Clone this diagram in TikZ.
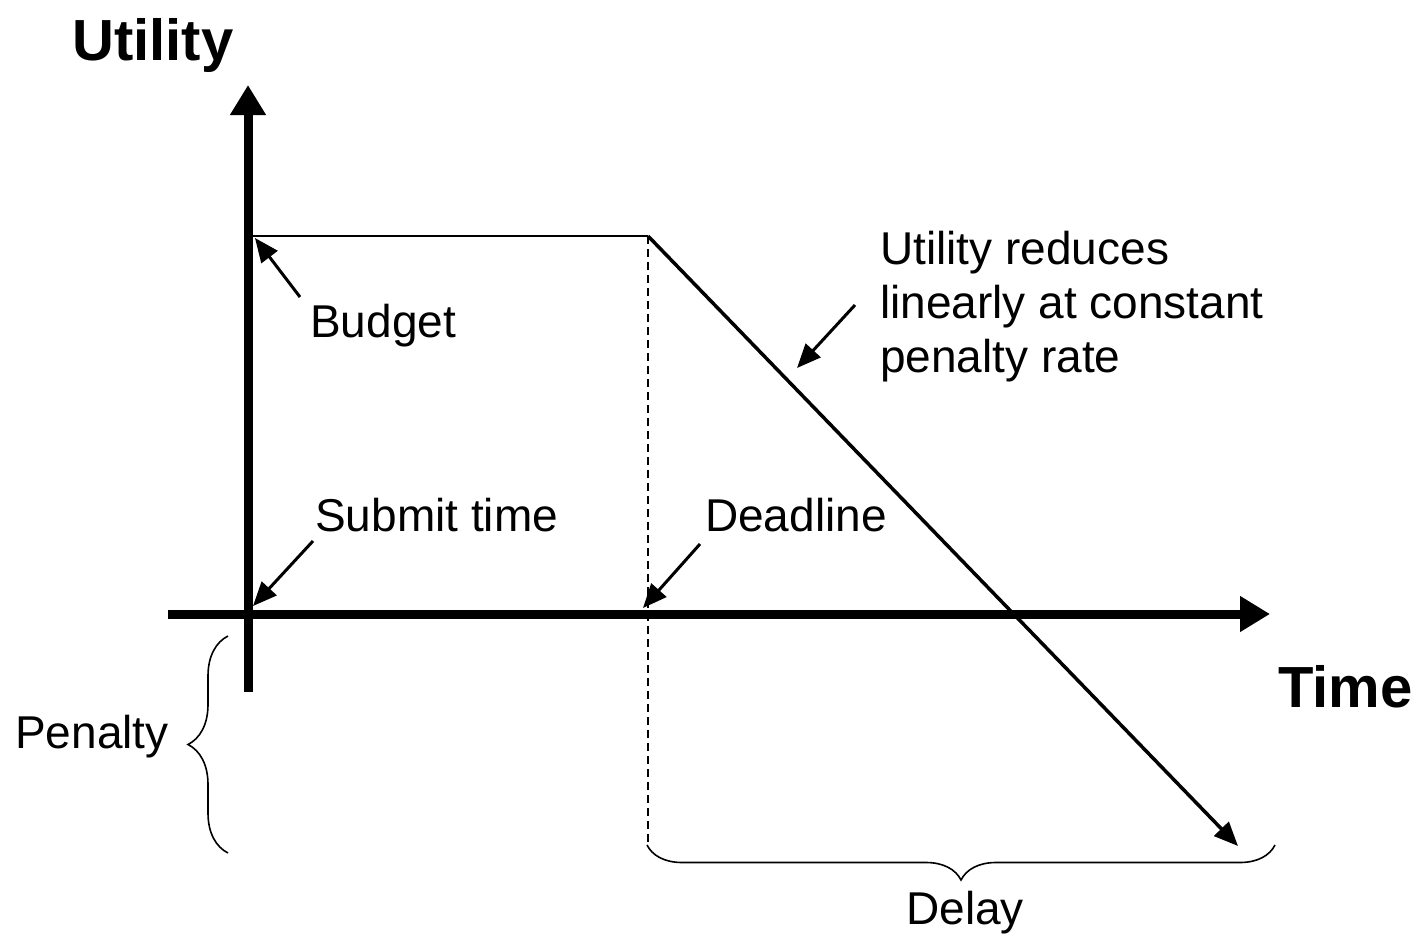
\documentclass[tikz,border=0pt]{standalone}
\usepackage{fontspec}
\setmainfont{Liberation Sans}
\usetikzlibrary{arrows.meta,decorations.pathreplacing}

\begin{document}
\begin{tikzpicture}[
    x=1pt, y=-1pt,
    axis/.style={line width=9pt, -{Triangle[length=30pt,width=34pt]}},
    pointer/.style={line width=3pt, -{Triangle[length=24pt,width=20pt]}},
    curve/.style={line width=2pt},
    guide/.style={line width=1.6pt, dash pattern=on 8pt off 5pt},
    bracket/.style={line width=1.6pt, decorate, decoration={brace, amplitude=#1}},
    lbl/.style={font=\fontsize{46}{54}\selectfont, inner sep=0pt, anchor=base west},
    axislbl/.style={font=\fontsize{58}{64}\selectfont\bfseries, inner sep=0pt, anchor=base west}
]
\useasboundingbox (0,0) rectangle (1421,934);

% Key points
\coordinate (origin) at (248,614);
\coordinate (ybottom) at (248,692);
\coordinate (ytop) at (248,85);
\coordinate (xleft) at (168,614);
\coordinate (xright) at (1270,614);
\coordinate (budget) at (248,236);
\coordinate (deadline) at (648,236);
\coordinate (deadlinefoot) at (648,845);
\coordinate (late) at (1238,846);

% Axes
\draw[axis] (ybottom) -- (ytop);
\draw[axis] (xleft) -- (xright);

% Utility curve
\draw[curve] (budget) -- (deadline);
\draw[guide] (deadline) -- (deadlinefoot);
\draw[pointer, line width=3.5pt] (deadline) -- (late);

% Labels
\node[axislbl] (utility) at (72,60) {Utility};
\node[axislbl] (time) at (1278,707) {Time};
\node[lbl] (budgetlbl) at (310,337) {Budget};
\node[lbl] (submitlbl) at (315,531) {Submit time};
\node[lbl] (deadlinelbl) at (705,531) {Deadline};
\node[lbl, anchor=north west, align=left] (ratelbl) at (880,231)
    {Utility reduces\\linearly at constant\\penalty rate};
\node[lbl] (penaltylbl) at (15,748) {Penalty};
\node[lbl] (delaylbl) at (906,924) {Delay};

% Pointers
\coordinate (budgettail) at (300,297);
\coordinate (budgettip) at (255,238);
\coordinate (submittail) at (313,541);
\coordinate (submittip) at (253,606);
\coordinate (deadlinetail) at (700,544);
\coordinate (deadlinetip) at (643,608);
\coordinate (ratetail) at (855,305);
\coordinate (ratetip) at (797,368);
\draw[pointer] (budgettail) -- (budgettip);
\draw[pointer] (submittail) -- (submittip);
\draw[pointer] (deadlinetail) -- (deadlinetip);
\draw[pointer] (ratetail) -- (ratetip);

% Braces
\draw[bracket=40pt] (228,853) -- (228,636);
\draw[bracket=35pt] (1275,845) -- (647,845);

\end{tikzpicture}
\end{document}
